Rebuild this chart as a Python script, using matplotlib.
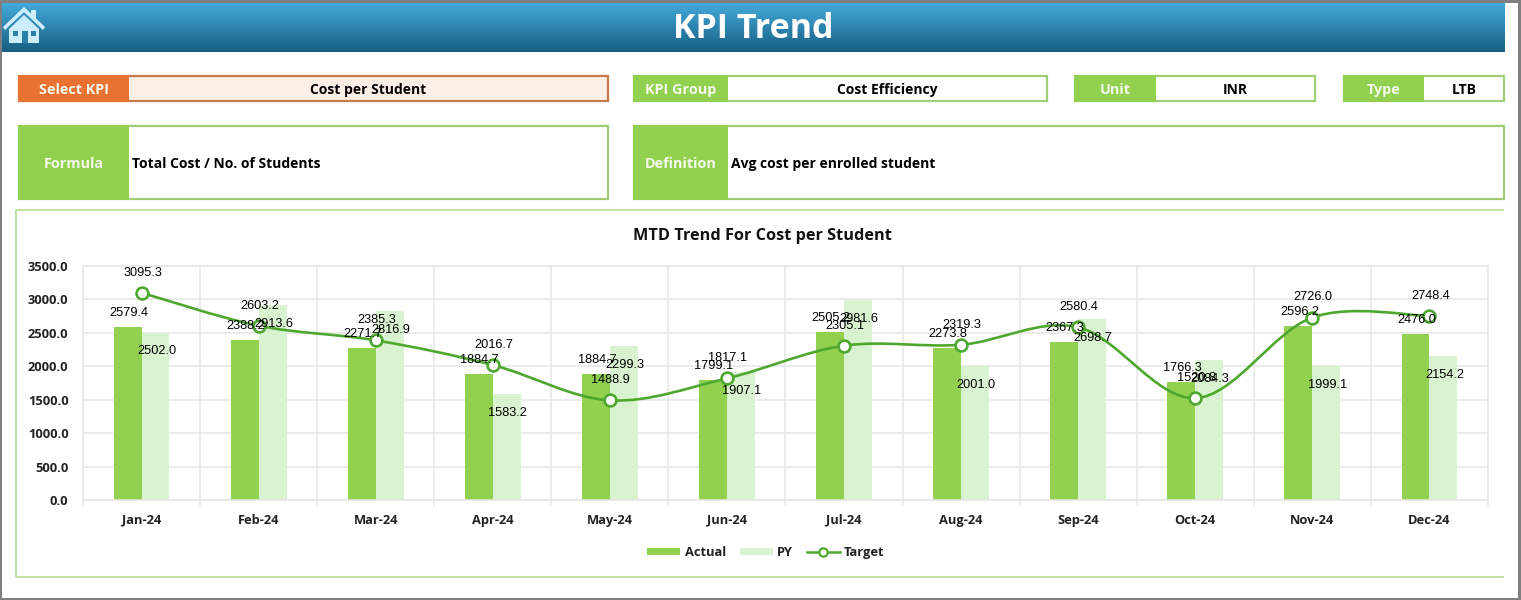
import numpy as np
import matplotlib
matplotlib.use("Agg")
import matplotlib.pyplot as plt
from matplotlib.patches import Rectangle, Polygon, PathPatch
from matplotlib.path import Path
from matplotlib.lines import Line2D

months = ["Jan-24","Feb-24","Mar-24","Apr-24","May-24","Jun-24","Jul-24","Aug-24","Sep-24","Oct-24","Nov-24","Dec-24"]
actual = [2579.4,2388.2,2271.7,1884.7,1884.7,1799.1,2505.2,2273.8,2367.3,1766.3,2596.2,2476.0]
py = [2502.0,2913.6,2816.9,1583.2,2299.3,1907.1,2981.6,2001.0,2698.7,2084.3,1999.1,2154.2]
target = [3095.3,2603.2,2385.3,2016.7,1488.9,1817.1,2305.1,2319.3,2580.4,1520.8,2726.0,2748.4]
yticks = [0,500,1000,1500,2000,2500,3000,3500]

W, H = 1521, 600
GREEN = "#92D050"
LIGHT = "#D9F2D0"
LINE = "#4EA72E"
ORANGE = "#E97132"
EDGE = "#A3CC77"
HEAD = "Open Sans"
NUM = "Liberation Sans"

fig = plt.figure(figsize=(W/100, H/100), dpi=100, facecolor="white")
bg = fig.add_axes([0, 0, 1, 1])
bg.set_xlim(0, W); bg.set_ylim(H, 0); bg.axis("off")

# header band
grad = np.linspace(0, 1, 64)[:, None]
c0, c1 = np.array([0x45,0xA9,0xDA])/255, np.array([0x15,0x5F,0x82])/255
img = (c0[None,None,:]*(1-grad[:,:,None]) + c1[None,None,:]*grad[:,:,None])
bg.imshow(img, extent=(2, 1505, 52, 3), aspect="auto", zorder=1)
bg.set_xlim(0, W); bg.set_ylim(H, 0)
bg.text(753, 29.5, "KPI Trend", color="white", fontsize=24.5, fontweight="bold", family=HEAD, ha="center", va="center", zorder=3)

# outer frame
for r in [(0,0,W,2.5),(0,0,2,H),(0,H-2,W,2),(W-3,0,3,H)]:
    bg.add_patch(Rectangle((r[0],r[1]),r[2],r[3],fc="#7F7F7F",ec="none",zorder=5))

# home icon
ic = "#CFEEFD"
dk = "#2A7FA8"
bg.add_patch(Polygon([(3,27),(24,7),(45,27),(43,30),(24,12),(5,30)], fc=ic, ec="none", zorder=3))
bg.add_patch(Polygon([(31,10),(36,10),(36,21),(31,16)], fc=ic, ec="none", zorder=3))
bg.add_patch(Polygon([(9,43),(9,29),(24,15),(39,29),(39,43)], fc=ic, ec="none", zorder=3))
bg.add_patch(Rectangle((12.5,31),5.5,5,fc=dk,ec="none",zorder=4))
bg.add_patch(Rectangle((30.5,31),5.5,5,fc=dk,ec="none",zorder=4))
bg.add_patch(Rectangle((21.5,31),6,12,fc=dk,ec="none",zorder=4))

def box(x0, x1, y0, y1, split, label, value, col=GREEN, edge=EDGE, fill="white", left=False):
    my = (y0+y1)/2 + 1.5
    bg.add_patch(Rectangle((x0,y0),x1-x0,y1-y0,fc=fill,ec=edge,lw=1.6,zorder=2))
    bg.add_patch(Rectangle((x0-1,y0-1),split-x0+1,y1-y0+2,fc=col,ec="none",zorder=2.5))
    bg.text((x0+split)/2,my,label,color="#F4F8EC",fontsize=10.4,fontweight="bold",family=HEAD,ha="center",va="center",zorder=3)
    if left:
        bg.text(split+3,my,value,color="black",fontsize=10,fontweight="bold",family=HEAD,ha="left",va="center",zorder=3)
    else:
        bg.text((split+x1)/2,my,value,color="black",fontsize=10,fontweight="bold",family=HEAD,ha="center",va="center",zorder=3)

box(19,608,76,101,129,"Select KPI","Cost per Student",col=ORANGE,edge="#C9784A",fill="#FDEEE6")
box(634,1047,76,101,728,"KPI Group","Cost Efficiency")
box(1075,1315,76,101,1156,"Unit","INR")
box(1344,1504,76,101,1424,"Type","LTB")
box(19,608,126,199,129,"Formula","Total Cost / No. of Students",left=True)
box(634,1504,126,199,728,"Definition","Avg cost per enrolled student",left=True)

# chart frame (top, left and bottom lines)
fc = "#BFE0A6"
bg.add_line(Line2D([1503,16,16,1503],[209.5,209.5,576.5,576.5],color=fc,lw=1.4,zorder=2))
bg.text(762,236.5,"MTD Trend For Cost per Student",color="#111111",fontsize=11.7,fontweight="bold",family=HEAD,ha="center",va="center",zorder=3)

# chart
ax = fig.add_axes([83/W, 1-500/H, (1488-83)/W, (500-265.7)/H])
ax.patch.set_alpha(0)
x = np.arange(len(months))
bw = 27.9/117.1
ax.set_xlim(-0.5, 11.5); ax.set_ylim(0, 3500)
ax.bar(x-bw/2, actual, bw, color=GREEN, zorder=2, label="Actual")
ax.bar(x+bw/2, py, bw, color=LIGHT, zorder=2, label="PY")

# Excel-style smoothed line
t = np.array(target, float)
verts = [(x[0], t[0])]; codes = [Path.MOVETO]
n = len(t)
for i in range(n-1):
    p0 = t[i-1] if i > 0 else t[i]; x0 = x[i-1] if i > 0 else x[i]
    p3 = t[i+2] if i+2 < n else t[i+1]; x3 = x[i+2] if i+2 < n else x[i+1]
    verts += [(x[i]+(x[i+1]-x0)/6, t[i]+(t[i+1]-p0)/6),
              (x[i+1]-(x3-x[i])/6, t[i+1]-(p3-t[i])/6),
              (x[i+1], t[i+1])]
    codes += [Path.CURVE4]*3
ax.add_patch(PathPatch(Path(verts,codes),fc="none",ec=LINE,lw=1.9,zorder=3,capstyle="round"))
ax.plot(x, t, ls="none", marker="o", ms=8.5, mfc="white", mec=LINE, mew=1.9, zorder=4)

ax.set_yticks(yticks)
ax.set_yticklabels([f"{v:.1f}" for v in yticks], fontsize=9.3, fontweight="bold", family=HEAD, color="#222222")
ax.set_xticks(np.arange(-0.5, 12, 1))
ax.set_xticklabels([])
ax.set_xticks(x, minor=True)
ax.set_xticklabels(months, minor=True, fontsize=9.3, fontweight="bold", family=HEAD, color="#222222")
ax.tick_params(axis="x", which="major", length=4, color="#E6E6E6", width=1.1)
ax.tick_params(axis="x", which="minor", length=0, pad=10)
ax.tick_params(axis="y", length=0, pad=10.5)
ax.grid(True, which="major", color="#E6E6E6", lw=1.1, zorder=0)
ax.set_axisbelow(True)
for s in ax.spines.values():
    s.set_visible(True); s.set_color("#E6E6E6"); s.set_linewidth(1.1)

lab = dict(fontsize=9.2, family=NUM, color="black", ha="center", va="center", zorder=6)
for i in range(n):
    ax.annotate(f"{actual[i]:.1f}", (x[i]-bw/2, actual[i]), xytext=(0.7,10), textcoords="offset points", **lab)
    ax.annotate(f"{py[i]:.1f}", (x[i]+bw/2, py[i]), xytext=(0.7,-13.5), textcoords="offset points", **lab)
    ax.annotate(f"{target[i]:.1f}", (x[i], target[i]), xytext=(0.7,14.5), textcoords="offset points", **lab)

# legend
hs = [Rectangle((0,0),1,1,fc=GREEN), Rectangle((0,0),1,1,fc=LIGHT),
      Line2D([0],[0],color=LINE,lw=1.8,marker="o",ms=6,mfc="white",mec=LINE,mew=1.6)]
leg = fig.legend(hs,["Actual","PY","Target"],loc="center",bbox_to_anchor=(766/W,1-552.5/H),ncol=3,frameon=False,
                 prop={"family":HEAD,"weight":"bold","size":9.3},handlelength=2.55,handleheight=0.45,columnspacing=1.05,handletextpad=0.35)
for t_ in leg.get_texts():
    t_.set_color("#222222")

fig.savefig("out.png", dpi=100, facecolor="white")
